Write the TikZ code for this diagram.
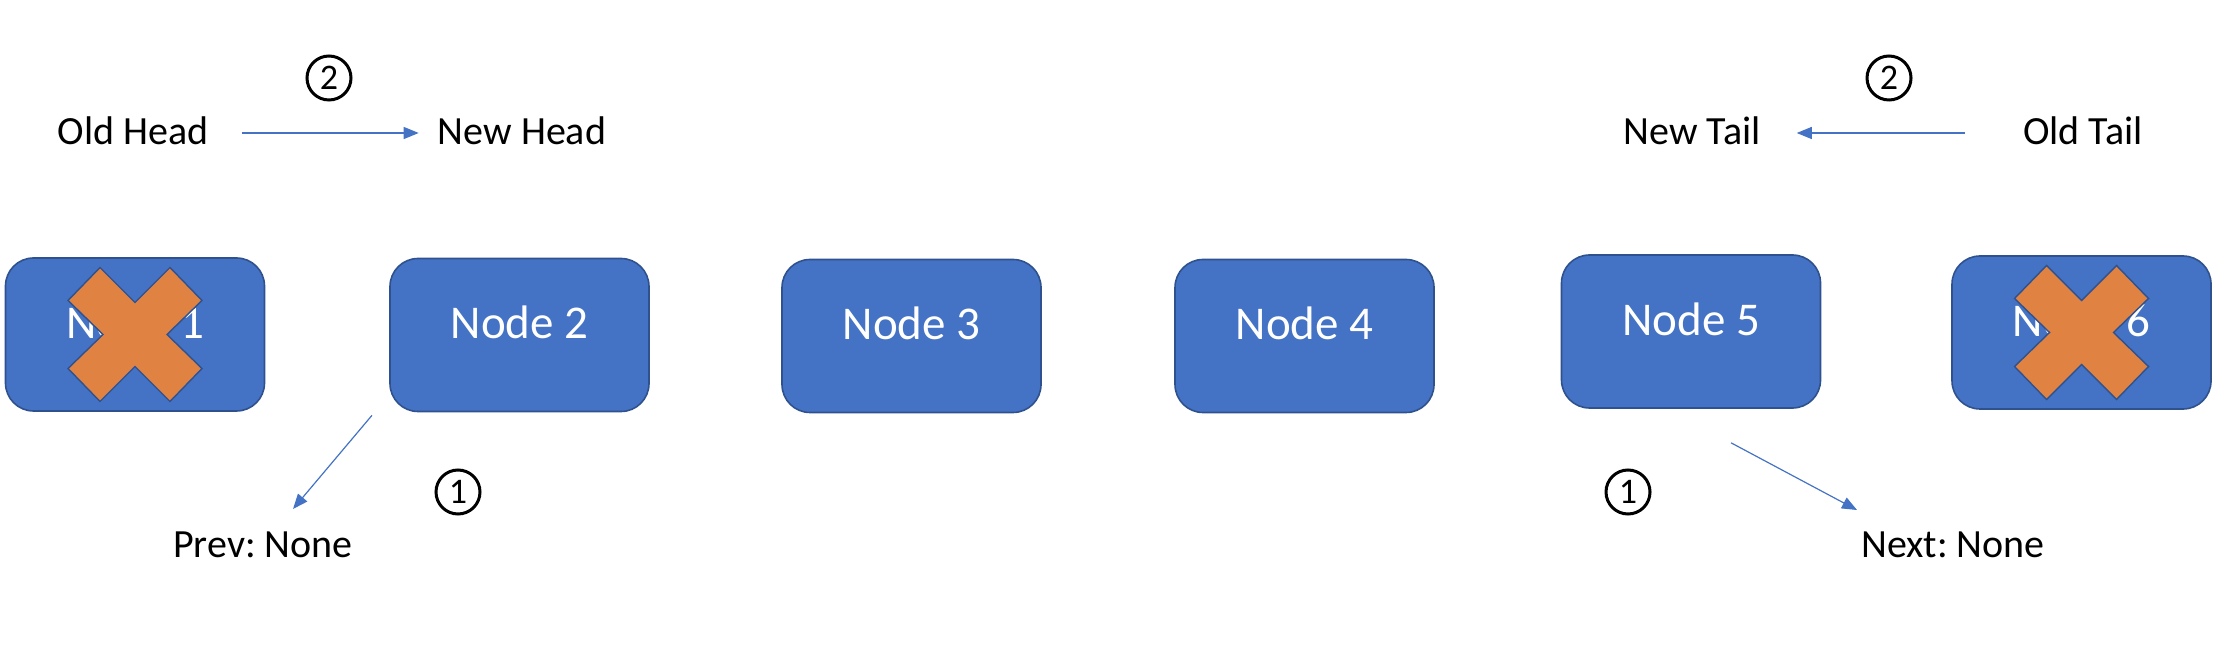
\documentclass[tikz,border=0pt]{standalone}
\usepackage{fontspec}
\setmainfont{Carlito}
\usetikzlibrary{arrows.meta}
\frenchspacing
\definecolor{boxfill}{RGB}{68,114,196}
\definecolor{boxline}{RGB}{47,82,143}
\definecolor{crossfill}{RGB}{224,130,66}
\definecolor{arrowblue}{RGB}{68,114,196}
\tikzset{
  listbox/.style={draw=boxline, line width=1.6pt, fill=boxfill, rounded corners=28pt,
    minimum width=259pt, minimum height=153pt, inner sep=0pt, text=white,
    font=\fontsize{47}{56}\selectfont, text height=33pt, text depth=25pt},
  lbl/.style={inner sep=0pt, text=black, font=\fontsize{40}{48}\selectfont},
  stepnum/.style={circle, draw=black, line width=3pt, minimum size=44pt, inner sep=0pt,
    font=\fontsize{36}{42}\selectfont},
  ptr/.style={draw=arrowblue, line width=1.2pt, -{Triangle[length=15pt,width=12pt]}},
  crossmark/.style={draw=boxline, line width=1.4pt, fill=crossfill, line join=miter},
}
\begin{document}
\begin{tikzpicture}[x=1pt,y=1pt]
\useasboundingbox (0,0) rectangle (2218,656);
% list nodes
\node[listbox] (n1) at (135,321.5) {Node 1};
\node[listbox] (n2) at (519.5,321) {Node 2};
\node[listbox] (n3) at (911.5,320) {Node 3};
\node[listbox] (n4) at (1304.5,320) {Node 4};
\node[listbox] (n5) at (1691,324.5) {Node 5};
\node[listbox] (n6) at (2081.5,323.5) {Node 6};
% crosses
\begin{scope}[shift={(n1.center)}]
\draw[crossmark] (-35,67) -- (0,32) -- (35,67) -- (67,34) -- (32,0) -- (67,-34) -- (35,-67) -- (0,-32) -- (-35,-67) -- (-67,-34) -- (-32,0) -- (-67,34) -- cycle;
\end{scope}
\begin{scope}[shift={(n6.center)}]
\draw[crossmark] (-35,67) -- (0,32) -- (35,67) -- (67,34) -- (32,0) -- (67,-34) -- (35,-67) -- (0,-32) -- (-35,-67) -- (-67,-34) -- (-32,0) -- (-67,34) -- cycle;
\end{scope}
% top labels
\node[lbl] (oldhead) at (133,525) {Old Head};
\node[lbl] (newhead) at (522,525) {New Head};
\node[lbl] (newtail) at (1692,525) {New Tail};
\node[lbl] (oldtail) at (2083,525) {Old Tail};
\node[stepnum] (s2a) at (329,578) {2};
\node[stepnum] (s2b) at (1889,578) {2};
% bottom labels
\node[lbl] (prev) at (263,111) {Prev: None};
\node[lbl] (next) at (1953,111) {Next: None};
\node[stepnum] (s1a) at (458,164) {1};
\node[stepnum] (s1b) at (1628,164) {1};
% pointers
\draw[ptr] ([shift={(33,-2)}]oldhead.east) -- ([shift={(-19,-2)}]newhead.west);
\draw[ptr] ([shift={(-58,-2)}]oldtail.west) -- ([shift={(36,-2)}]newtail.east);
\draw[ptr] ([shift={(-147.5,-3)}]n2.south) -- ([shift={(30,36)}]prev.center);
\draw[ptr] ([shift={(40,-34)}]n5.south) -- ([shift={(-96,35)}]next.center);
\end{tikzpicture}
\end{document}
